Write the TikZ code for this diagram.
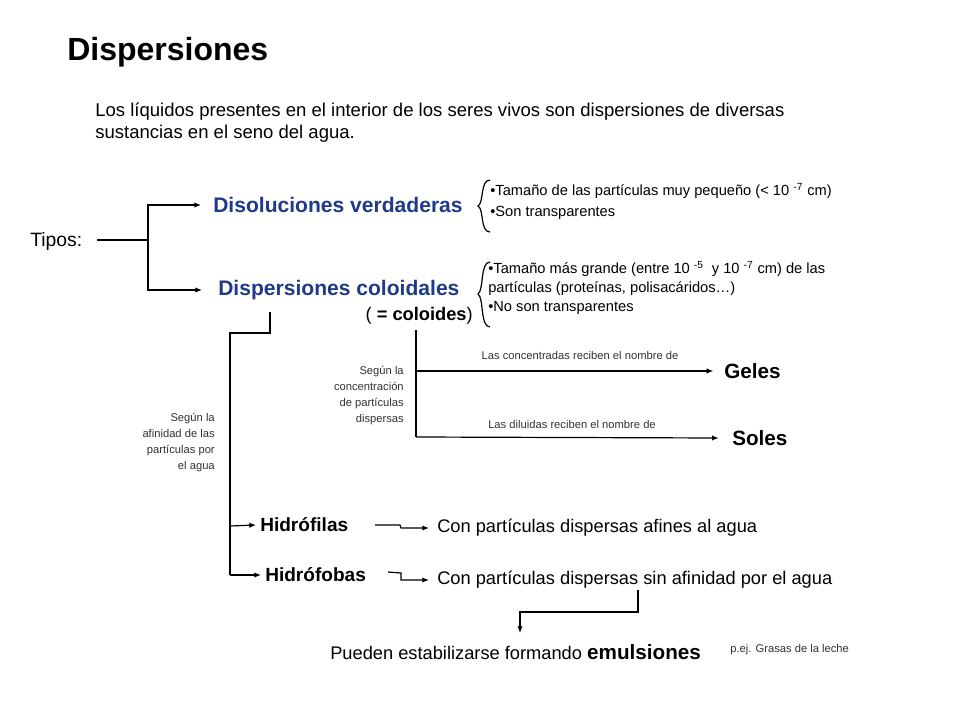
\documentclass[tikz,border=0pt]{standalone}
\usepackage{fontspec}
\setmainfont{Liberation Sans}
\usetikzlibrary{arrows.meta,decorations.pathreplacing}
\definecolor{dblue}{HTML}{1F3A8A}
\begin{document}
\begin{tikzpicture}[x=0.75pt,y=-0.75pt,
  every node/.style={inner sep=0pt},
  conn/.style={line width=0.9pt},
  arr/.style={conn,-{Latex[length=5pt,width=4pt]}},
  head/.style={font=\fontsize{15.8}{18}\selectfont\bfseries,text=dblue,anchor=west},
  bl/.style={font=\fontsize{14.3}{16}\selectfont\bfseries,anchor=west},
  body/.style={font=\fontsize{13.7}{16}\selectfont,anchor=west},
  small/.style={font=\fontsize{11}{14}\selectfont,anchor=west,align=left},
  tiny/.style={font=\fontsize{8.4}{12}\selectfont,text=black!80,align=right}]
\useasboundingbox (0,0) rectangle (960,720);
\fill[white] (0,0) rectangle (960,720);
\node[anchor=west,font=\fontsize{24}{28}\selectfont\bfseries] (title) at (67,52) {Dispersiones};
\node[anchor=north west,align=left,font=\fontsize{13.9}{16}\selectfont] (intro) at (95,103) {Los líquidos presentes en el interior de los seres vivos son dispersiones de diversas\\sustancias en el seno del agua.};
\node[body,font=\fontsize{14.5}{16}\selectfont] (tipos) at (30,242) {Tipos:};
\node[head] (dv) at (213,205) {Disoluciones verdaderas};
\node[head] (dc) at (218,290) {Dispersiones coloidales};
\coordinate (t1) at (97,240); \coordinate (t2) at (148,240);
\draw[conn] (t1) -- (t2);
\draw[arr] (t2) -- (148,205) -- ([xshift=-9pt]dv.west);
\draw[arr] (t2) -- (148,290) -- ([xshift=-12pt]dc.west);
\draw[conn] (490,180) .. controls (480,180) and (484,203) .. (478,206) .. controls (484,209) and (480,232) .. (490,232);
\node[small] (dv1) at (490,191) {•Tamaño de las partículas muy pequeño (< 10 \textsuperscript{-7} cm)};
\node[small] (dv2) at (490,213) {•Son transparentes};
\draw[conn] (490,262) .. controls (480,262) and (484,290) .. (478,294) .. controls (484,298) and (480,327) .. (490,327);
\node[small,anchor=north west,font=\fontsize{11}{14.2}\selectfont] (dc1) at (488,261) {•Tamaño más grande (entre 10 \textsuperscript{-5}\ \ y 10 \textsuperscript{-7} cm) de las\\partículas (proteínas, polisacáridos…)\\•No son transparentes};
\node[anchor=east,font=\fontsize{13.7}{16}\selectfont] (col) at (473,316) {( \textbf{= coloides})};
% afinidad branch
\coordinate (a0) at (270,312); \coordinate (a1) at (270,333); \coordinate (a2) at (230,333);
\node[bl] (hf) at (260,525) {Hidrófilas};
\node[bl] (hb) at (265,575) {Hidrófobas};
\draw[conn] (a0) -- (a1) -- (a2) -- (230,575);
\draw[arr] (230,526) -- ([xshift=-3pt]hf.west);
\draw[arr] (230,575) -- ([xshift=-3pt]hb.west);
\node[tiny,anchor=east,align=right] (afin) at (215,443) {Según la\\afinidad de las\\partículas por\\el agua};
% concentration branch
\node[bl,font=\fontsize{15.5}{18}\selectfont\bfseries] (geles) at (724,371) {Geles};
\node[bl,font=\fontsize{15.5}{18}\selectfont\bfseries] (soles) at (732,438) {Soles};
\coordinate (c0) at (416,330);
\draw[conn] (c0) -- (416,437);
\draw[arr] (416,371) -- ([xshift=-8pt]geles.west);
\draw[arr] (416,437) -- ([xshift=-10pt]soles.west);
\node[tiny,anchor=center] (lc) at (580,355) {Las concentradas reciben el nombre de};
\node[tiny,anchor=center] (ld) at (572,424) {Las diluidas reciben el nombre de};
\node[tiny,anchor=east] (conc) at (404,396) {Según la\\concentración\\de partículas\\dispersas};
% descriptions
\node[body] (cf) at (437,528) {Con partículas dispersas afines al agua};
\node[body] (cb) at (437,580) {Con partículas dispersas sin afinidad por el agua};
\coordinate (hfo) at (375,525); \coordinate (hbo) at (388,572);
\draw[arr] (hfo) -- (400,525) -- (401,528) -- ([xshift=-6pt]cf.west);
\draw[arr] (hbo) -- (401,573) -- (401,580) -- ([xshift=-6pt]cb.west);
\node[body] (em) at (330,652) {Pueden estabilizarse formando \fontsize{15.5}{18}\selectfont\bfseries emulsiones};
\node[tiny,anchor=west,font=\fontsize{8.4}{10}\selectfont] (pej) at (730,650) {p.ej. Grasas de la leche};
\draw[arr] (638,590) -- (638,612) -- (520,612) -- (520,633);
\end{tikzpicture}
\end{document}
